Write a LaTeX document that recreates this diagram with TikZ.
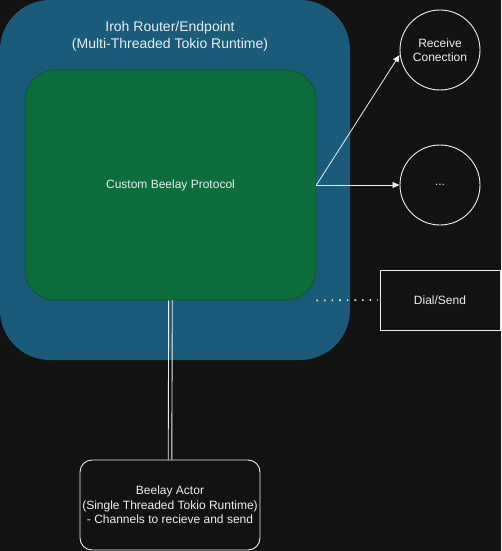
\documentclass[tikz,border=0pt]{standalone}
\usepackage{fontspec}
\setmainfont{Liberation Sans}
\usetikzlibrary{arrows.meta}
\definecolor{bgc}{HTML}{121212}
\definecolor{bluec}{HTML}{195B79}
\definecolor{greenc}{HTML}{0D6E3C}
\definecolor{greenb}{HTML}{0C5A31}
\definecolor{txt}{HTML}{EEEEEE}
\begin{document}
\begin{tikzpicture}[x=1pt,y=-1pt,
  txtstyle/.style={text=txt,font=\fontsize{12}{14.5}\selectfont,align=center},
  circnode/.style={draw=txt,line width=0.9pt,circle,minimum size=80pt,inner sep=0pt,txtstyle},
  boxnode/.style={draw=txt,line width=0.9pt,txtstyle,inner sep=0pt},
  arr/.style={draw=txt,line width=0.8pt,-{Triangle[length=7pt,width=6pt]}}]
\fill[bgc] (0,0) rectangle (501,551);
\useasboundingbox (0,0) rectangle (501,551);
\fill[bluec,rounded corners=50pt] (0,0) rectangle (350,360);
\node[txtstyle,font=\fontsize{14}{17}\selectfont] (title) at (170,36) {Iroh Router/Endpoint\\(Multi-Threaded Tokio Runtime)};
\node[fill=greenc,draw=greenb,line width=0.8pt,rounded corners=30pt,minimum width=291pt,minimum height=230pt,inner sep=0pt,txtstyle] (proto) at (170.5,185) {Custom Beelay Protocol};
\node[circnode] (recv) at (440,50) {Receive\\Conection};
\node[circnode] (dots) at (440,185) {...};
\node[boxnode,minimum width=120pt,minimum height=60pt] (dial) at (440,300) {Dial/Send};
\node[boxnode,rounded corners=12pt,minimum width=180pt,minimum height=90pt] (actor) at (170,505) {Beelay Actor\\(Single Threaded Tokio Runtime)\\- Channels to recieve and send};
\coordinate (src) at (proto.east);
\draw[arr] (src) -- (recv.west |- 0,55) ;
\draw[arr] (src) -- (dots.west);
\draw[txt,line width=1.6pt,dash pattern=on 1.6pt off 6pt] (proto.south east) -- ([xshift=-2pt]dial.west);
\draw[txt,line width=0.9pt] ([xshift=-1.8pt]proto.south) -- ([xshift=-1.8pt]actor.north);
\draw[txt,line width=0.9pt] ([xshift=1.8pt]proto.south) -- ([xshift=1.8pt]actor.north);
\end{tikzpicture}
\end{document}
